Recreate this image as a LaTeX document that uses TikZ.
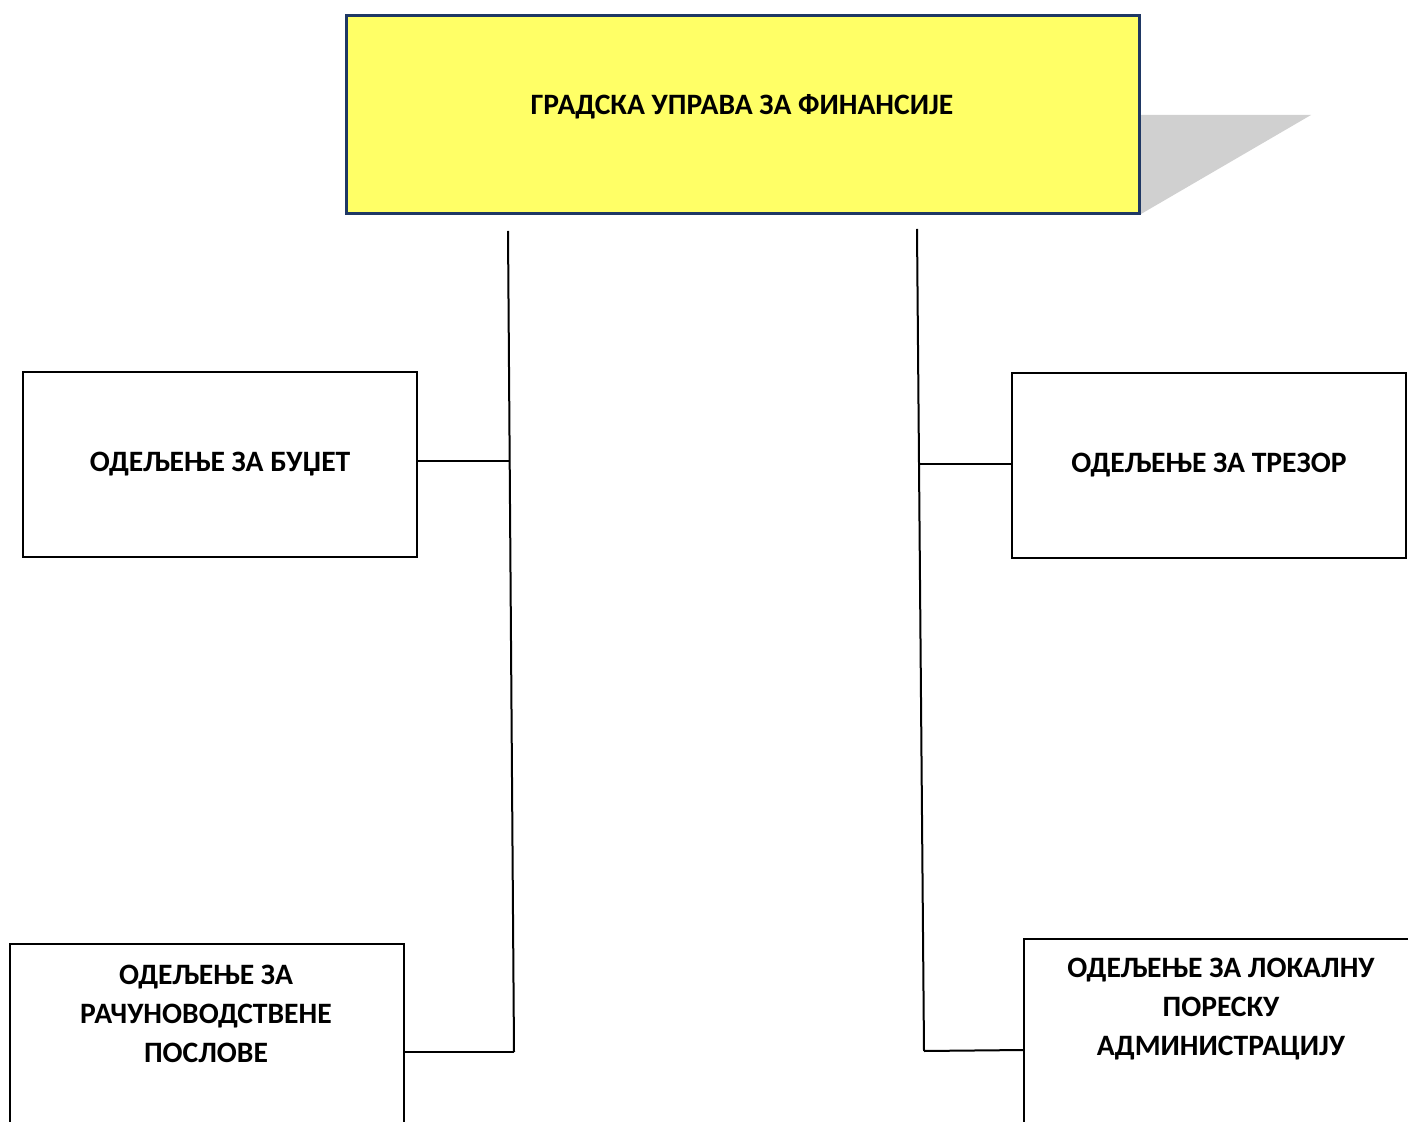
\documentclass[tikz,border=0pt]{standalone}
\usepackage{fontspec}
\setmainfont{Carlito}
\definecolor{topfill}{RGB}{255,255,102}
\definecolor{topdraw}{RGB}{31,56,100}
\definecolor{shadowgray}{RGB}{208,208,208}
\begin{document}
\begin{tikzpicture}[x=0.5pt,y=-0.5pt,
  box/.style={draw=black,line width=1pt,fill=white,inner sep=0pt,outer sep=0pt,minimum width=197pt,minimum height=92.5pt},
  lbl/.style={font=\fontsize{14.8}{19.5}\selectfont\bfseries,align=center,inner sep=0pt},
  conn/.style={draw=black,line width=1pt}]
\useasboundingbox (0,0) rectangle (1408,1122);
\clip (0,0) rectangle (1408,1122);
% shadow
\fill[shadowgray] (1139,115) -- (1311,115) -- (1141,214) -- (1139,214) -- cycle;
% top box
\node[draw=topdraw,line width=1.5pt,fill=topfill,inner sep=0pt,outer sep=0pt,minimum width=396.5pt,minimum height=99pt,anchor=north west] (top) at (346,16) {};
\node[lbl] (toptxt) at (742,107) {ГРАДСКА УПРАВА ЗА ФИНАНСИЈЕ};
% boxes
\node[box,anchor=north west] (budzet) at (23,372) {};
\node[lbl] (budzettxt) at (220,464) {ОДЕЉЕЊЕ ЗА БУЏЕТ};
\node[box,anchor=north west] (trezor) at (1012,373) {};
\node[lbl] (trezortxt) at (1209,465) {ОДЕЉЕЊЕ ЗА ТРЕЗОР};
\node[box,anchor=north west,minimum height=100pt] (racun) at (10,944) {};
\node[lbl] (racuntxt) at (206,1014) {ОДЕЉЕЊЕ ЗА\\РАЧУНОВОДСТВЕНЕ\\ПОСЛОВЕ};
\node[box,anchor=north west,minimum height=100pt] (lok) at (1024,939) {};
\node[lbl] (loktxt) at (1221,1009) {ОДЕЉЕЊЕ ЗА ЛОКАЛНУ\\ПОРЕСКУ\\АДМИНИСТРАЦИЈУ};
% trunk lines
\coordinate (lt) at (508,231);
\coordinate (lb) at (514,1052);
\coordinate (rt) at (917,229);
\coordinate (rb) at (924,1051);
\coordinate (lj) at (509.7,461);
\coordinate (rj) at (918.8,464);
\coordinate (lokj) at (1024,1050);
\draw[conn] (lt) -- (lb);
\draw[conn] (rt) -- (rb);
\draw[conn] (budzet.east |- lj) -- (lj);
\draw[conn] (rj) -- (trezor.west |- rj);
\draw[conn] (racun.north east |- lb) -- (lb);
\draw[conn] (rb) -- (lokj);
\end{tikzpicture}
\end{document}
